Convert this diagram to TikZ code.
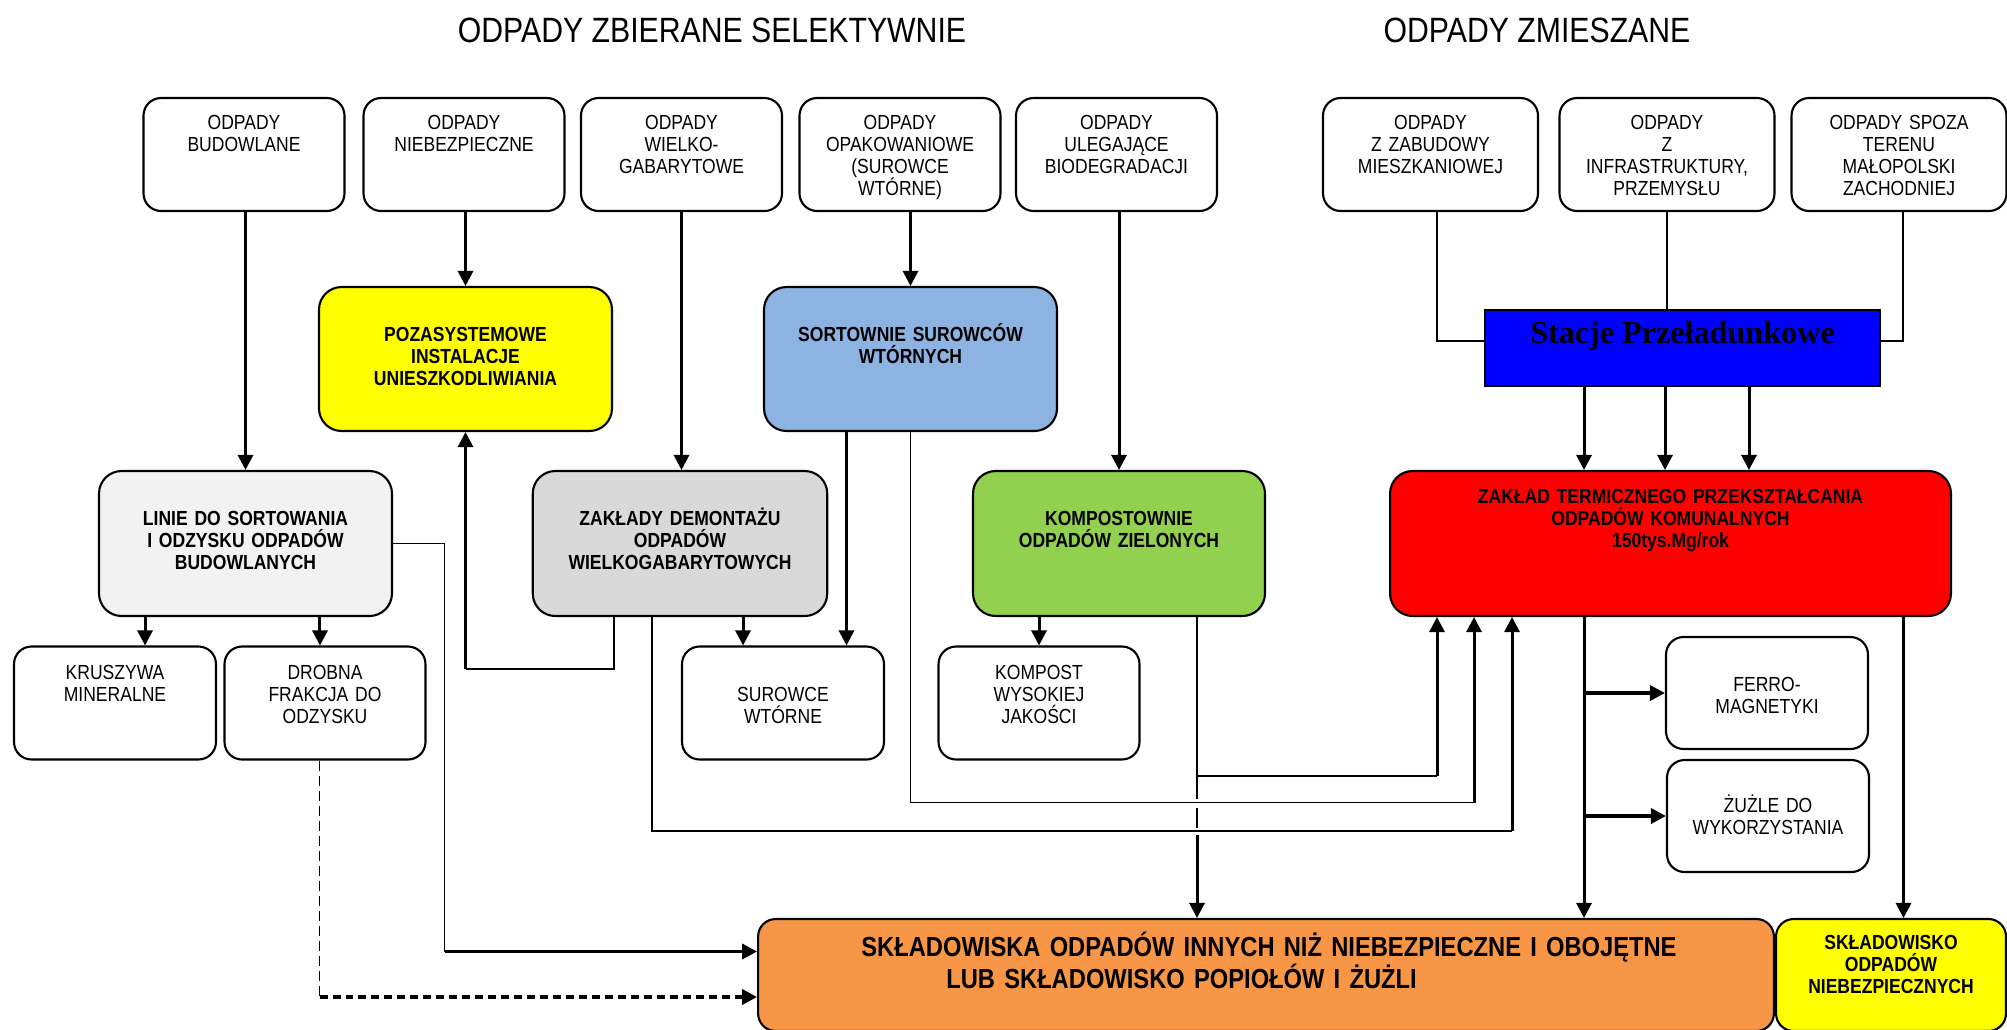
\documentclass[tikz,border=0pt]{standalone}
\usepackage{fontspec}
\setmainfont{Liberation Sans}[FakeStretch=0.86]
\newfontfamily\stacjefont{Liberation Serif}
\usetikzlibrary{arrows.meta}

\definecolor{ylw}{HTML}{FFFF00}
\definecolor{sortblue}{HTML}{8DB3E2}
\definecolor{stblue}{HTML}{0000FF}
\definecolor{linegrey}{HTML}{F2F2F2}
\definecolor{demgrey}{HTML}{D9D9D9}
\definecolor{kompgreen}{HTML}{92D050}
\definecolor{ztpored}{HTML}{FF0000}
\definecolor{orng}{HTML}{F79646}

\newcommand\txtsize{\fontsize{11.6}{12.5}\selectfont}

\tikzset{
  box/.style={draw, line width=1.2pt, rounded corners=0.35cm, inner sep=0pt},
  sbox/.style={box, minimum width=4.02cm, minimum height=2.26cm},
  bbox/.style={box, rounded corners=0.45cm, minimum width=5.86cm, minimum height=2.88cm},
  tx/.style={anchor=base, text width=10cm, align=center, inner sep=0pt, font=\txtsize},
  txb/.style={tx, font=\txtsize\bfseries},
  ttl/.style={anchor=base, inner sep=0pt, font=\fontsize{20}{24}\selectfont},
  ln/.style={line width=1.1pt},
  arr/.style={line width=1.7pt, -{Triangle[length=0.3cm,width=0.3cm]}},
  arrT/.style={line width=2pt, -{Triangle[length=0.3cm,width=0.3cm]}}
}

\begin{document}
\begin{tikzpicture}[x=0.02cm, y=-0.02cm]
\useasboundingbox (0,0) rectangle (2007,1029);

% titles
\node[ttl] (tsel) at (712,42) {ODPADY ZBIERANE SELEKTYWNIE};
\node[ttl] (tmix) at (1537,42) {ODPADY ZMIESZANE};

% sources
\node[sbox] (odbud) at (244,154.5) {};
\node[tx] (odbud-t) at ([yshift=-0.654cm]odbud.north) {ODPADY\\BUDOWLANE};
\node[sbox] (odnieb) at (464,154.5) {};
\node[tx] (odnieb-t) at ([yshift=-0.654cm]odnieb.north) {ODPADY\\NIEBEZPIECZNE};
\node[sbox] (odwielk) at (681.5,154.5) {};
\node[tx] (odwielk-t) at ([yshift=-0.654cm]odwielk.north) {ODPADY\\WIELKO-\\GABARYTOWE};
\node[sbox] (odopak) at (900,154.5) {};
\node[tx] (odopak-t) at ([yshift=-0.654cm]odopak.north) {ODPADY\\OPAKOWANIOWE\\(SUROWCE\\WTÓRNE)};
\node[sbox] (odbio) at (1116.5,154.5) {};
\node[tx] (odbio-t) at ([yshift=-0.654cm]odbio.north) {ODPADY\\ULEGAJĄCE\\BIODEGRADACJI};
\node[sbox, minimum width=4.3cm] (odmiesz) at (1430.5,154.5) {};
\node[tx] (odmiesz-t) at ([yshift=-0.654cm]odmiesz.north) {ODPADY\\Z ZABUDOWY\\MIESZKANIOWEJ};
\node[sbox, minimum width=4.3cm] (odinfra) at (1667,154.5) {};
\node[tx] (odinfra-t) at ([yshift=-0.654cm]odinfra.north) {ODPADY\\Z\\INFRASTRUKTURY,\\PRZEMYSŁU};
\node[sbox, minimum width=4.3cm] (odspoza) at (1899,154.5) {};
\node[tx] (odspoza-t) at ([yshift=-0.654cm]odspoza.north) {ODPADY SPOZA\\TERENU\\MAŁOPOLSKI\\ZACHODNIEJ};

% second row
\node[bbox, fill=ylw] (poza) at (465.5,359) {};
\node[txb] (poza-t) at ([yshift=-1.12cm]poza.north) {POZASYSTEMOWE\\INSTALACJE\\UNIESZKODLIWIANIA};
\node[bbox, fill=sortblue] (sort) at (910.5,359) {};
\node[txb] (sort-t) at ([yshift=-1.12cm]sort.north) {SORTOWNIE SUROWCÓW\\WTÓRNYCH};
\node[draw, line width=1pt, fill=stblue, minimum width=7.9cm, minimum height=1.52cm, inner sep=0pt] (stacje) at (1682.5,348) {};
\node[anchor=base, inner sep=0pt, font={\stacjefont\bfseries\fontsize{18.3}{20}\selectfont}] (stacje-t) at ([yshift=-0.68cm]stacje.north) {Stacje Przeładunkowe};

% third row
\node[bbox, fill=linegrey, minimum height=2.9cm] (lin) at (245.5,543.5) {};
\node[txb] (lin-t) at ([yshift=-1.12cm]lin.north) {LINIE DO SORTOWANIA\\I ODZYSKU ODPADÓW\\BUDOWLANYCH};
\node[bbox, fill=demgrey, minimum width=5.89cm, minimum height=2.9cm] (demon) at (680,543.5) {};
\node[txb] (demon-t) at ([yshift=-1.12cm]demon.north) {ZAKŁADY DEMONTAŻU\\ODPADÓW\\WIELKOGABARYTOWYCH};
\node[bbox, fill=kompgreen, minimum width=5.84cm, minimum height=2.9cm] (komp) at (1119,543.5) {};
\node[txb] (komp-t) at ([yshift=-1.12cm]komp.north) {KOMPOSTOWNIE\\ODPADÓW ZIELONYCH};
\node[bbox, fill=ztpored, minimum width=11.22cm, minimum height=2.9cm] (ztpo) at (1670.5,543.5) {};
\node[txb] (ztpo-t) at ([yshift=-0.68cm]ztpo.north) {ZAKŁAD TERMICZNEGO PRZEKSZTAŁCANIA\\ODPADÓW KOMUNALNYCH\\150tys.Mg/rok};

% products
\node[sbox, minimum width=4.04cm] (krusz) at (115,703) {};
\node[tx] (krusz-t) at ([yshift=-0.69cm]krusz.north) {KRUSZYWA\\MINERALNE};
\node[sbox] (drob) at (325,703) {};
\node[tx] (drob-t) at ([yshift=-0.69cm]drob.north) {DROBNA\\FRAKCJA DO\\ODZYSKU};
\node[sbox, minimum width=4.04cm] (surw) at (783,703) {};
\node[tx] (surw-t) at ([yshift=-1.12cm]surw.north) {SUROWCE\\WTÓRNE};
\node[sbox] (kompost) at (1039,703) {};
\node[tx] (kompost-t) at ([yshift=-0.69cm]kompost.north) {KOMPOST\\WYSOKIEJ\\JAKOŚCI};
\node[sbox, minimum width=4.04cm, minimum height=2.24cm] (ferro) at (1767,693) {};
\node[tx] (ferro-t) at ([yshift=-1.12cm]ferro.north) {FERRO-\\MAGNETYKI};
\node[sbox, minimum width=4.04cm, minimum height=2.24cm] (zuzle) at (1768,816) {};
\node[tx] (zuzle-t) at ([yshift=-1.08cm]zuzle.north) {ŻUŻLE DO\\WYKORZYSTANIA};

% landfills
\node[box, fill=orng, minimum width=20.32cm, minimum height=2.24cm] (skl) at (1266,975) {};
\node[anchor=base west, text width=18cm, align=left, inner sep=0pt, font={\bfseries\fontsize{15.7}{17}\selectfont}] (skl-t) at ([xshift=2.08cm, yshift=-0.78cm]skl.north west) {SKŁADOWISKA ODPADÓW INNYCH NIŻ NIEBEZPIECZNE I OBOJĘTNE\\\hspace*{1.7cm}LUB SKŁADOWISKO POPIOŁÓW I ŻUŻLI};
\node[box, fill=ylw, minimum width=4.6cm, minimum height=2.24cm] (sklnieb) at (1891,975) {};
\node[txb] (sklnieb-t) at ([yshift=-0.64cm]sklnieb.north) {SKŁADOWISKO\\ODPADÓW\\NIEBEZPIECZNYCH};

% sources to plants
\draw[arr] (odbud.south -| lin.north) -- (lin.north);
\draw[arr] (odnieb.south -| poza.north) -- (poza.north);
\draw[arr] (odwielk.south) -- (odwielk.south |- demon.north);
\draw[arr] (odopak.south -| sort.north) -- (sort.north);
\draw[arr] (odbio.south -| komp.north) -- (komp.north);
\draw[ln] ([xshift=0.13cm]odmiesz.south) |- ([yshift=0.14cm]stacje.west);
\draw[ln] (odinfra.south) -- (odinfra.south |- stacje.north);
\draw[ln] ([xshift=0.08cm]odspoza.south) |- ([yshift=0.14cm]stacje.east);
\foreach \dx in {-1.97,-0.35,1.33}
  \draw[arr] ([xshift=\dx cm]stacje.south) -- ([xshift=\dx cm]stacje.south |- ztpo.north);

% LINIE outputs
\draw[arr] ([xshift=-2.01cm]lin.south) -- ([xshift=-2.01cm]lin.south |- krusz.north);
\draw[arr] ([xshift=1.49cm]lin.south) -- ([xshift=1.49cm]lin.south |- drob.north);
\coordinate (linturn) at (444.5,951.5);
\draw[ln] (lin.east) -| (linturn);
\draw[arrT] (linturn) -- (linturn -| skl.west);
\coordinate (drobturn) at (319.5,997);
\draw[ln, dash pattern=on 0.2cm off 0.1cm] (drob.south -| drobturn) -- (drobturn);
\draw[arrT, dash pattern=on 0.16cm off 0.1cm] (drobturn) -- (drobturn -| skl.west);

% ZAKLADY DEMONTAZU outputs
\coordinate (demturn) at (614,669);
\draw[ln] (demon.south -| demturn) -- (demturn) -- (demturn -| poza.south);
\draw[arr] (demturn -| poza.south) -- (poza.south);
\draw[arr] ([xshift=-0.8cm]surw.north |- demon.south) -- ([xshift=-0.8cm]surw.north);
\coordinate (demz) at (652,831);
\coordinate (demzr) at (1512,831);
\draw[ln] (demon.south -| demz) -- (demz) -- (demzr);
\draw[arr] (demzr) -- (demzr |- ztpo.south);

% SORTOWNIE outputs
\draw[arr] ([xshift=1.27cm]surw.north |- sort.south) -- ([xshift=1.27cm]surw.north);
\coordinate (sortz) at (1474,802.5);
\draw[ln] (sort.south) |- (sortz);
\draw[arr] (sortz) -- (sortz |- ztpo.south);

% KOMPOSTOWNIE outputs
\draw[arr] (kompost.north |- komp.south) -- (kompost.north);
\coordinate (kompj) at (1197,776);
\coordinate (kompg) at (1197,835);
\coordinate (kompz) at (1437,776);
\draw[ln, dash pattern=on 3.64cm off 0.18cm on 0.4cm off 0.16cm] (kompj |- komp.south) -- (kompg);
\draw[arr] (kompg) -- (kompg |- skl.north);
\draw[ln] (kompj) -- (kompz);
\draw[arr] (kompz) -- (kompz |- ztpo.south);

% ZTPO outputs
\draw[arr] ([xshift=-1.73cm]ztpo.south) -- ([xshift=-1.73cm]ztpo.south |- skl.north);
\draw[arrT] ([xshift=-1.73cm]ztpo.south |- ferro.west) -- (ferro.west);
\draw[arrT] ([xshift=-1.73cm]ztpo.south |- zuzle.west) -- (zuzle.west);
\draw[arr] ([xshift=0.25cm]sklnieb.north |- ztpo.south) -- ([xshift=0.25cm]sklnieb.north);
\end{tikzpicture}
\end{document}
